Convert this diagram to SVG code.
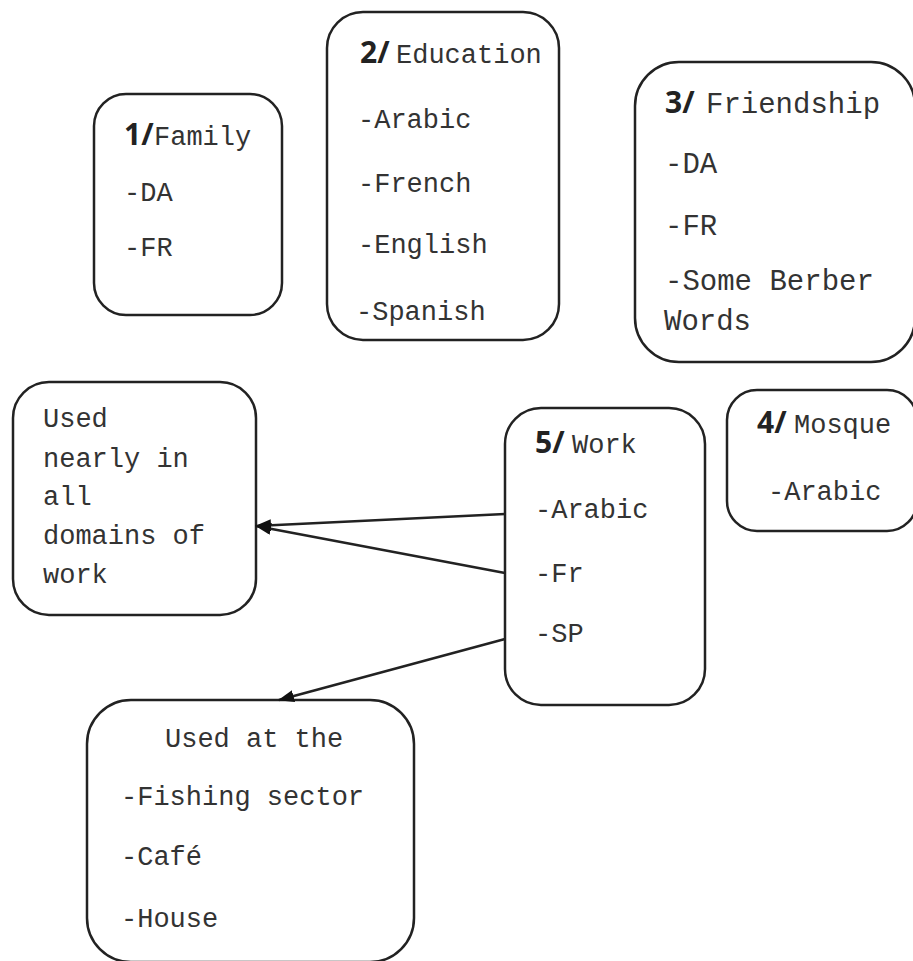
<svg xmlns="http://www.w3.org/2000/svg" width="913" height="961" viewBox="0 0 913 961">
<style>
.box{fill:#fff;stroke:#222;stroke-width:2.5}
.t{font-family:"Liberation Mono","Courier New",monospace;font-size:27px;fill:#333}
.t3{font-family:"Liberation Mono","Courier New",monospace;font-size:29px;fill:#333}
.n{font-family:"Open Sans","Liberation Sans",Arial,sans-serif;font-weight:bold;fill:#222;font-size:30px}
.c{fill:none;stroke:#222;stroke-width:2.5}
</style>
<defs>
<marker id="ah" viewBox="0 0 16 12" refX="15" refY="6" markerWidth="16" markerHeight="12" markerUnits="userSpaceOnUse" orient="auto">
<path d="M0,0 L16,6 L0,12 Z" fill="#111"/>
</marker>
</defs>
<rect width="913" height="961" fill="#fff"/>
<g id="family">
<rect class="box" x="94" y="94" width="188" height="221" rx="32"/>
<text x="124" y="145"><tspan class="n">1/</tspan><tspan class="t" x="154">Family</tspan></text>
<text class="t" x="124" y="201">-DA</text>
<text class="t" x="124" y="256">-FR</text>
</g>
<g id="education">
<rect class="box" x="327" y="12" width="232" height="328" rx="36"/>
<text x="360" y="63"><tspan class="n">2/</tspan><tspan class="t" x="396">Education</tspan></text>
<text class="t" x="358" y="128">-Arabic</text>
<text class="t" x="358" y="192">-French</text>
<text class="t" x="358" y="253">-English</text>
<text class="t" x="356" y="320">-Spanish</text>
</g>
<g id="friendship">
<rect class="box" x="635" y="62" width="280" height="300" rx="44"/>
<text x="665" y="113"><tspan class="n" font-size="32">3/</tspan><tspan class="t3" x="706">Friendship</tspan></text>
<text class="t3" x="665" y="173">-DA</text>
<text class="t3" x="665" y="235">-FR</text>
<text class="t3" x="665" y="290">-Some Berber</text>
<text class="t3" x="664" y="330">Words</text>
</g>
<g id="mosque">
<rect class="box" x="727" y="390" width="190" height="141" rx="30"/>
<text x="757" y="433"><tspan class="n">4/</tspan><tspan class="t" x="794">Mosque</tspan></text>
<text class="t" x="768" y="500">-Arabic</text>
</g>
<g id="work">
<rect class="box" x="505" y="408" width="200" height="297" rx="36"/>
<text x="535" y="453"><tspan class="n">5/</tspan><tspan class="t" x="572">Work</tspan></text>
<text class="t" x="535" y="518">-Arabic</text>
<text class="t" x="535" y="582">-Fr</text>
<text class="t" x="535" y="642">-SP</text>
</g>
<g id="domains">
<rect class="box" x="13" y="382" width="243" height="233" rx="36"/>
<text class="t" x="43" y="427">Used</text>
<text class="t" x="43" y="467">nearly in</text>
<text class="t" x="43" y="505">all</text>
<text class="t" x="43" y="544">domains of</text>
<text class="t" x="43" y="583">work</text>
</g>
<g id="usedat">
<rect class="box" x="87" y="700" width="327" height="262" rx="44"/>
<text class="t" x="165" y="747">Used at the</text>
<text class="t" x="121" y="805">-Fishing sector</text>
<text class="t" x="121" y="865">-Café</text>
<text class="t" x="121" y="927">-House</text>
</g>
<g id="connectors">
<line class="c" x1="505" y1="514" x2="256" y2="526" marker-end="url(#ah)"/>
<line class="c" x1="505" y1="573" x2="256" y2="526" marker-end="url(#ah)"/>
<line class="c" x1="505" y1="639" x2="279" y2="700" marker-end="url(#ah)"/>
</g>
</svg>
